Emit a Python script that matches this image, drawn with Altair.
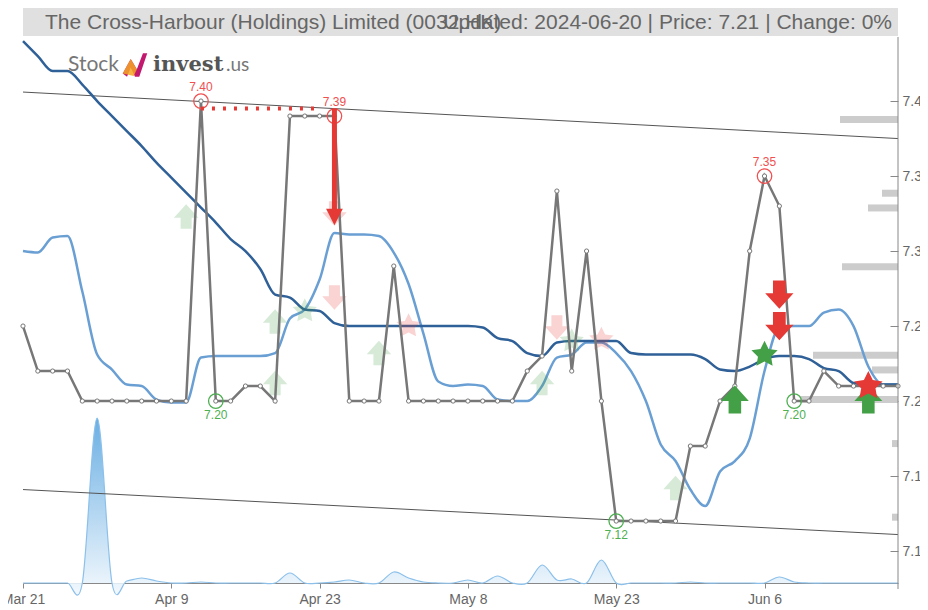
import altair as alt
import pandas as pd

# ---------------- data ----------------
tick_idx = [0, 10, 20, 30, 40, 50]
tick_labels = ["Mar 21", "Apr 9", "Apr 23", "May 8", "May 23", "Jun 6"]

price = [7.25, 7.22, 7.22, 7.22, 7.20, 7.20, 7.20, 7.20, 7.20, 7.20,
         7.20, 7.20, 7.40, 7.20, 7.20, 7.21, 7.21, 7.20, 7.39, 7.39,
         7.39, 7.39, 7.20, 7.20, 7.20, 7.29, 7.20, 7.20, 7.20, 7.20,
         7.20, 7.20, 7.20, 7.20, 7.22, 7.23, 7.34, 7.22, 7.30, 7.20,
         7.12, 7.12, 7.12, 7.12, 7.12, 7.17, 7.17, 7.20, 7.21, 7.30,
         7.35, 7.33, 7.20, 7.20, 7.22, 7.21, 7.21, 7.21, 7.21, 7.21]

ma_long = [7.44, 7.43, 7.42, 7.42, 7.411, 7.40, 7.39, 7.38, 7.37, 7.359,
           7.349, 7.339, 7.329, 7.319, 7.308, 7.30, 7.288, 7.271, 7.269, 7.261,
           7.26, 7.252, 7.25, 7.25, 7.25, 7.25, 7.25, 7.25, 7.25, 7.25,
           7.25, 7.249, 7.242, 7.24, 7.232, 7.23, 7.239, 7.24, 7.24, 7.24,
           7.24, 7.232, 7.231, 7.231, 7.231, 7.231, 7.228, 7.221, 7.22, 7.223,
           7.228, 7.23, 7.23, 7.228, 7.222, 7.22, 7.212, 7.211, 7.211, 7.211]

ma_short = [7.30, 7.299, 7.309, 7.31, 7.273, 7.231, 7.221, 7.211, 7.21, 7.201,
            7.199, 7.199, 7.229, 7.23, 7.23, 7.23, 7.23, 7.232, 7.255, 7.261,
            7.281, 7.312, 7.311, 7.311, 7.31, 7.299, 7.278, 7.245, 7.213, 7.21,
            7.211, 7.21, 7.201, 7.20, 7.20, 7.21, 7.229, 7.231, 7.239, 7.239,
            7.232, 7.22, 7.20, 7.171, 7.16, 7.141, 7.13, 7.153, 7.16, 7.175,
            7.22, 7.249, 7.25, 7.25, 7.259, 7.261, 7.25, 7.223, 7.211, 7.211]

volume = [0, 0, 0, 0, 0, 165, 0, 2, 5, 2,
          0, 0, 1, 0, 0, 0, 0, 0, 10, 0,
          0, 1, 3, 0, 0, 11, 5, 1, 0, 0,
          3, 0, 7, 0, 0, 18, 3, 4, 0, 23,
          0, 0, 0, 0, 0, 1, 0, 0, 0, 0,
          0, 6, 1, 0, 0, 0, 0, 0, 0, 0]

vp_levels = [7.39, 7.34, 7.33, 7.29, 7.23, 7.22, 7.20, 7.17, 7.12]
vp_volume = [58, 16, 30, 56, 85, 26, 98, 6, 6]

channel_idx = [0, 59]
channel_upper = [7.406, 7.375]
channel_lower = [7.141, 7.111]

high_idx = [12, 21, 50]
high_val = [7.40, 7.39, 7.35]
low_idx = [13, 40, 52]
low_val = [7.20, 7.12, 7.20]

resist_idx = [12, 20]
resist_val = [7.395, 7.395]

big_arrow_idx = [21]
big_arrow_from = [7.395]
big_arrow_to = [7.328]
big_arrow_head = [7.3227]

buy_arrow_idx = [48, 57]
buy_arrow_val = [7.201, 7.201]
sell_arrow_idx = [51, 51]
sell_arrow_val = [7.271, 7.25]
buy_star_idx = [50]
buy_star_val = [7.231]
sell_star_idx = [57]
sell_star_val = [7.21]

faded_buy_idx = [11, 17, 17, 24, 35, 44]
faded_buy_val = [7.323, 7.253, 7.212, 7.232, 7.212, 7.142]
faded_sell_idx = [21, 21, 36]
faded_sell_val = [7.325, 7.269, 7.249]
faded_bstar_idx = [19, 37]
faded_bstar_val = [7.26, 7.24]
faded_sstar_idx = [26, 39]
faded_sstar_val = [7.25, 7.241]

title_left = "The Cross-Harbour (Holdings) Limited (0032.HK)"
title_right = "Updated: 2024-06-20 | Price: 7.21 | Change: 0%"

# ---------------- styling ----------------
W, H = 875, 546
GREEN = "#43a047"
RED = "#e53935"
FONT = "Liberation Sans"

UP = "M0,-1 L1,0.1 L0.45,0.1 L0.45,1 L-0.45,1 L-0.45,0.1 L-1,0.1 Z"
DOWN = "M0,1 L1,-0.1 L0.45,-0.1 L0.45,-1 L-0.45,-1 L-0.45,-0.1 L-1,-0.1 Z"
STAR = ("M0,-1 L0.294,-0.405 L0.951,-0.309 L0.476,0.155 L0.588,0.809 L0,0.5 "
        "L-0.588,0.809 L-0.476,0.155 L-0.951,-0.309 L-0.294,-0.405 Z")
TRI_DOWN = "M-1,-1 L1,-1 L0,1 Z"
LOGO = "M-1,0.7 L-0.35,-0.5 L0.15,0.35 L0.65,-0.95 L1,-0.95 L0.35,0.95 L0,0.95 L-0.35,0.2 L-0.65,0.95 Z"

xs = alt.Scale(domain=[0, 59], nice=False, zero=False)
ys = alt.Scale(domain=[7.0787, 7.4427], nice=False, zero=False)

x_axis = alt.Axis(values=tick_idx, title=None, orient="bottom",
                  labelExpr="['" + "','".join(tick_labels) + "'][datum.value/10]",
                  labelColor="#666", labelFontSize=14, labelFont=FONT,
                  tickColor="#888", tickSize=5, domainColor="#888",
                  labelPadding=4, grid=False, labelFlush=False)
y_axis = alt.Axis(values=[7.10, 7.15, 7.20, 7.25, 7.30, 7.35, 7.40], format=".2f",
                  title=None, orient="right", offset=-8, domain=False,
                  labelColor="#666", labelFontSize=14, labelFont=FONT,
                  tickColor="#888", tickSize=8, labelPadding=4, grid=False)


def X(field="i"):
    return alt.X(f"{field}:Q", scale=xs, axis=x_axis)


def Y(field):
    return alt.Y(f"{field}:Q", scale=ys, axis=y_axis)


df = pd.DataFrame({"i": list(range(len(price))), "price": price,
                   "ma_long": ma_long, "ma_short": ma_short, "vol": volume})


def pts(idx, vals):
    return pd.DataFrame({"i": idx, "v": vals})


def markers(idx, vals, shape, color, size, opacity):
    return alt.Chart(pts(idx, vals)).mark_point(
        shape=shape, filled=True, color=color, size=size, opacity=opacity,
        strokeWidth=0).encode(x=X(), y=Y("v"))


# ---------------- volume group ----------------
vmax = max(volume) * 3.31
vol_area = alt.Chart(df).mark_area(
    interpolate="cardinal",
    color=alt.Gradient(gradient="linear",
                       stops=[alt.GradientStop(color="#f2f8fd", offset=0),
                              alt.GradientStop(color="#5aa6e0", offset=1)],
                       x1=1, x2=1, y1=1, y2=0),
    opacity=0.9).encode(
    x=alt.X("i:Q", scale=xs, axis=None),
    y=alt.Y("vol:Q", scale=alt.Scale(domain=[0, vmax], nice=False), axis=None))
vol_line = alt.Chart(df).mark_line(interpolate="cardinal", color="#8cc0ea", strokeWidth=1.2).encode(
    x=alt.X("i:Q", scale=xs, axis=None),
    y=alt.Y("vol:Q", scale=alt.Scale(domain=[0, vmax], nice=False), axis=None))
vol_group = alt.layer(vol_area, vol_line)

# ---------------- volume-at-price bars ----------------
vp_df = pd.DataFrame({"level": vp_levels, "vp": vp_volume, "zero": [0] * len(vp_levels)})
vp_chart = alt.Chart(vp_df).mark_bar(color="#cccccc", size=7, orient="horizontal").encode(
    x=alt.X("vp:Q", scale=alt.Scale(domain=[0, W], reverse=True, nice=False), axis=None),
    x2="zero:Q",
    y=alt.Y("level:Q", scale=ys, axis=None))

# ---------------- price group ----------------
chan_df = pd.DataFrame({"i": channel_idx, "up": channel_upper, "lo": channel_lower})
chan_up = alt.Chart(chan_df).mark_line(color="#555", strokeWidth=1).encode(x=X(), y=Y("up"))
chan_lo = alt.Chart(chan_df).mark_line(color="#555", strokeWidth=1).encode(x=X(), y=Y("lo"))

short_line = alt.Chart(df).mark_line(color="#6a9fd4", strokeWidth=2.5, interpolate="monotone").encode(
    x=X(), y=Y("ma_short"))
long_line = alt.Chart(df).mark_line(color="#2f6097", strokeWidth=2.5, interpolate="monotone").encode(
    x=X(), y=Y("ma_long"))

faded = [
    markers(faded_buy_idx, faded_buy_val, UP, GREEN, 600, 0.22),
    markers(faded_sell_idx, faded_sell_val, DOWN, RED, 600, 0.22),
    markers(faded_bstar_idx, faded_bstar_val, STAR, GREEN, 650, 0.22),
    markers(faded_sstar_idx, faded_sstar_val, STAR, RED, 650, 0.22),
]

price_line = alt.Chart(df).mark_line(color="#777", strokeWidth=2.5).encode(x=X(), y=Y("price"))
price_pts = alt.Chart(df).mark_point(shape="circle", filled=True, fill="white", stroke="#777",
                                     strokeWidth=1, size=18, opacity=1).encode(x=X(), y=Y("price"))

high_c = alt.Chart(pts(high_idx, high_val)).mark_point(
    shape="circle", filled=False, color="#f05050", size=210, strokeWidth=1.3, opacity=1).encode(
    x=X(), y=Y("v"))
high_t = alt.Chart(pts(high_idx, high_val)).mark_text(
    color="#f05050", fontSize=12, dy=-14, font=FONT).encode(
    x=X(), y=Y("v"), text=alt.Text("v:Q", format=".2f"))
low_c = alt.Chart(pts(low_idx, low_val)).mark_point(
    shape="circle", filled=False, color="#4caf50", size=210, strokeWidth=1.3, opacity=1).encode(
    x=X(), y=Y("v"))
low_t = alt.Chart(pts(low_idx, low_val)).mark_text(
    color="#4caf50", fontSize=12, dy=14, font=FONT).encode(
    x=X(), y=Y("v"), text=alt.Text("v:Q", format=".2f"))

resist = alt.Chart(pts(resist_idx, resist_val)).mark_line(
    color=RED, strokeWidth=4, strokeDash=[3, 8]).encode(x=X(), y=Y("v"))

big_df = pd.DataFrame({"i": big_arrow_idx, "a": big_arrow_from, "b": big_arrow_to, "h": big_arrow_head})
big_shaft = alt.Chart(big_df).mark_rule(color=RED, strokeWidth=5).encode(
    x=X(), y=Y("a"), y2="b:Q")
big_head = alt.Chart(big_df).mark_point(shape=TRI_DOWN, filled=True, color=RED, size=280,
                                        opacity=1, strokeWidth=0).encode(x=X(), y=Y("h"))

strong = [
    markers(buy_arrow_idx, buy_arrow_val, UP, GREEN, 780, 1),
    markers(sell_arrow_idx, sell_arrow_val, DOWN, RED, 800, 1),
    markers(buy_star_idx, buy_star_val, STAR, GREEN, 760, 1),
    markers(sell_star_idx, sell_star_val, STAR, RED, 900, 1),
]

one = pd.DataFrame({"k": [0]})
band = alt.Chart(one).mark_rect(color="#e0e0e0").encode(
    x=alt.value(0), x2=alt.value(W), y=alt.value(-29), y2=alt.value(-1))
t_left = alt.Chart(one).mark_text(text=title_left, align="left", baseline="middle",
                                  fontSize=21, color="#666", font=FONT).encode(
    x=alt.value(22), y=alt.value(-14))
t_right = alt.Chart(one).mark_text(text=title_right, align="right", baseline="middle",
                                   fontSize=21, color="#666", font=FONT).encode(
    x=alt.value(869), y=alt.value(-14))

logo_stock = alt.Chart(one).mark_text(text="Stock", align="left", baseline="alphabetic",
                                      fontSize=21, color="#777", font="Lato").encode(
    x=alt.value(45), y=alt.value(34))
logo_icon = alt.Chart(one).mark_point(shape=LOGO, filled=True, color="#c2186e", size=600,
                                      opacity=1, strokeWidth=0).encode(
    x=alt.value(112), y=alt.value(28))
logo_icon2 = alt.Chart(one).mark_point(shape="M-1,0.7 L-0.35,-0.5 L0.15,0.35 L-0.1,0.9 Z", filled=True,
                                       color="#f5a623", size=600, opacity=0.85, strokeWidth=0).encode(
    x=alt.value(112), y=alt.value(28))
logo_invest = alt.Chart(one).mark_text(text="invest", align="left", baseline="alphabetic",
                                       fontSize=21, fontWeight="bold", color="#555",
                                       font="DejaVu Serif").encode(
    x=alt.value(130), y=alt.value(34))
logo_us = alt.Chart(one).mark_text(text=".us", align="left", baseline="alphabetic",
                                   fontSize=19, color="#777", font="Lato").encode(
    x=alt.value(203), y=alt.value(34))

domain_rule = alt.Chart(one).mark_rule(color="#888", strokeWidth=1).encode(
    x=alt.value(W), y=alt.value(0), y2=alt.value(H + 6))

price_group = alt.layer(
    chan_up, chan_lo, short_line, long_line, *faded, price_line, price_pts,
    high_c, high_t, low_c, low_t, resist, big_shaft, big_head, *strong,
    band, t_left, t_right, logo_stock, logo_icon, logo_icon2, logo_invest, logo_us, domain_rule)

chart = alt.layer(vol_group, vp_chart, price_group).resolve_scale(
    x="independent", y="independent").properties(
    width=W, height=H,
    padding={"left": 15, "top": 29, "right": 22, "bottom": 27},
    autosize=alt.AutoSizeParams(type="none"),
).configure_view(stroke=None).configure_axis(grid=False)

chart.save("out.html", embed_options={"renderer": "svg", "actions": False})
